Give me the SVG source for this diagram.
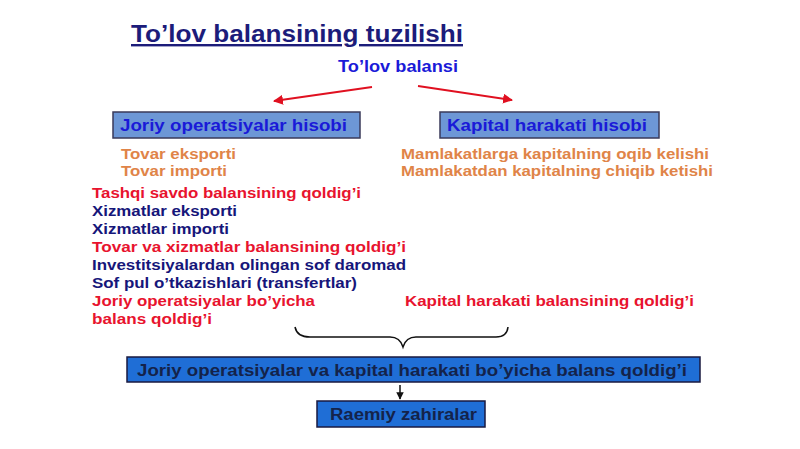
<svg xmlns="http://www.w3.org/2000/svg" width="800" height="449" viewBox="0 0 800 449">
<defs>
<style>
text{font-family:"Liberation Sans",Arial,sans-serif;font-weight:bold;}
.title{font-size:24px;fill:#1c1c7a;text-decoration:underline;}
.root{font-size:17px;fill:#1a1ad8;}
.hdr{font-size:17px;fill:#1a1ad8;}
.org{font-size:14.5px;fill:#e08448;}
.red{font-size:14.5px;fill:#e8132e;}
.navy{font-size:14.5px;fill:#16167a;}
.dark{font-size:17px;fill:#14234a;}
.dark2{font-size:16px;fill:#14234a;}
.box1{fill:#6d97d6;stroke:#3a3a5a;stroke-width:1.5;}
.box2{fill:#1f6ed6;stroke:#1a1a40;stroke-width:1.5;}
.red-line{stroke:#e01020;stroke-width:2;fill:none;}
.blk-line{stroke:#111;stroke-width:1.5;fill:none;}
</style>
<marker id="ar" viewBox="0 0 10 10" refX="9" refY="5" markerWidth="5" markerHeight="5" orient="auto"><path d="M0,0 L10,5 L0,10 z" fill="#e01020"/></marker>
<marker id="ab" viewBox="0 0 10 10" refX="9" refY="5" markerWidth="5" markerHeight="5" orient="auto"><path d="M0,0 L10,5 L0,10 z" fill="#111"/></marker>
</defs>
<rect width="800" height="449" fill="#ffffff"/>
<text class="title" x="131" y="42" textLength="332" lengthAdjust="spacingAndGlyphs">To’lov balansining tuzilishi</text>
<g id="root"><text class="root" x="338" y="72" textLength="120" lengthAdjust="spacingAndGlyphs">To’lov balansi</text></g>
<g id="connectors">
<line class="red-line" x1="372" y1="87" x2="274" y2="101" marker-end="url(#ar)"/>
<line class="red-line" x1="418" y1="86" x2="512" y2="100" marker-end="url(#ar)"/>
<path class="blk-line" d="M295,327 Q297,337 310,337 L390,337 Q400,337 403,347 Q406,337 416,337 L496,337 Q507,337 508,327"/>
<line class="blk-line" x1="400" y1="385" x2="400" y2="399" marker-end="url(#ab)"/>
</g>
<g id="joriy">
<rect class="box1" x="113" y="112" width="247" height="26"/>
<text class="hdr" x="120" y="131" textLength="227" lengthAdjust="spacingAndGlyphs">Joriy operatsiyalar hisobi</text>
</g>
<g id="kapital">
<rect class="box1" x="440" y="112" width="219" height="26"/>
<text class="hdr" x="447" y="131" textLength="200" lengthAdjust="spacingAndGlyphs">Kapital harakati hisobi</text>
</g>
<g id="joriy-items">
<text class="org" x="121" y="159" textLength="115" lengthAdjust="spacingAndGlyphs">Tovar eksporti</text>
<text class="org" x="121" y="176" textLength="106" lengthAdjust="spacingAndGlyphs">Tovar importi</text>
<text class="red" x="92" y="198" textLength="269" lengthAdjust="spacingAndGlyphs">Tashqi savdo balansining qoldig’i</text>
<text class="navy" x="92" y="216" textLength="145" lengthAdjust="spacingAndGlyphs">Xizmatlar eksporti</text>
<text class="navy" x="92" y="234" textLength="137" lengthAdjust="spacingAndGlyphs">Xizmatlar importi</text>
<text class="red" x="92" y="252" textLength="314" lengthAdjust="spacingAndGlyphs">Tovar va xizmatlar balansining qoldig’i</text>
<text class="navy" x="92" y="270" textLength="314" lengthAdjust="spacingAndGlyphs">Investitsiyalardan olingan sof daromad</text>
<text class="navy" x="92" y="288" textLength="265" lengthAdjust="spacingAndGlyphs">Sof pul o’tkazishlari (transfertlar)</text>
<text class="red" x="92" y="306" textLength="223" lengthAdjust="spacingAndGlyphs">Joriy operatsiyalar bo’yicha</text>
<text class="red" x="92" y="324" textLength="120" lengthAdjust="spacingAndGlyphs">balans qoldig’i</text>
</g>
<g id="kapital-items">
<text class="org" x="401" y="159" textLength="308" lengthAdjust="spacingAndGlyphs">Mamlakatlarga kapitalning oqib kelishi</text>
<text class="org" x="401" y="176" textLength="312" lengthAdjust="spacingAndGlyphs">Mamlakatdan kapitalning chiqib ketishi</text>
<text class="red" x="405" y="306" textLength="289" lengthAdjust="spacingAndGlyphs">Kapital harakati balansining qoldig’i</text>
</g>
<g id="umumiy">
<rect class="box2" x="127" y="357" width="573" height="25"/>
<text class="dark" x="137" y="376" textLength="550" lengthAdjust="spacingAndGlyphs">Joriy operatsiyalar va kapital harakati bo’yicha balans qoldig’i</text>
</g>
<g id="zahiralar">
<rect class="box2" x="317" y="401" width="168" height="26"/>
<text class="dark2" x="330" y="420" textLength="147" lengthAdjust="spacingAndGlyphs">Raemiy zahiralar</text>
</g>
</svg>
